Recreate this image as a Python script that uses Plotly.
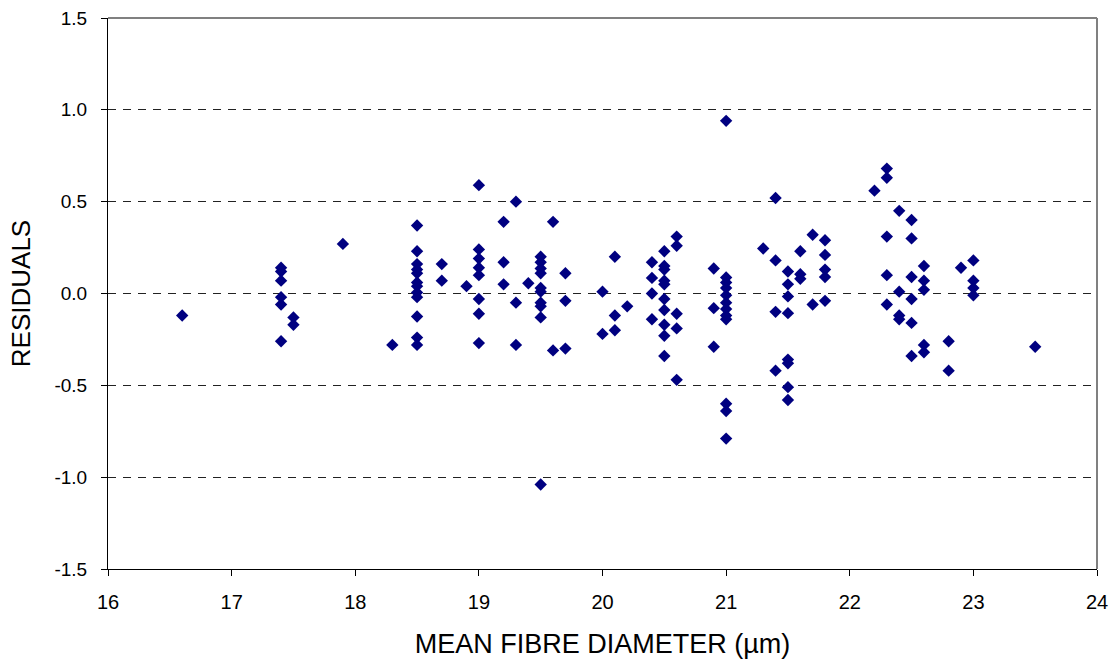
import plotly.graph_objects as go

# Data (mean fibre diameter, residual)
diameter = (
    [16.6]
    + [17.4] * 6
    + [17.5] * 2
    + [17.9]
    + [18.3]
    + [18.5] * 12
    + [18.7] * 2
    + [18.9]
    + [19.0] * 8
    + [19.2] * 3
    + [19.3] * 3
    + [19.4]
    + [19.5] * 10
    + [19.6] * 2
    + [19.7] * 3
    + [20.0] * 2
    + [20.1] * 3
    + [20.2]
    + [20.4] * 4
    + [20.5] * 10
    + [20.6] * 5
    + [20.9] * 3
    + [21.0] * 12
    + [21.3]
    + [21.4] * 4
    + [21.5] * 8
    + [21.6] * 3
    + [21.7] * 2
    + [21.8] * 5
    + [22.2]
    + [22.3] * 5
    + [22.4] * 4
    + [22.5] * 6
    + [22.6] * 5
    + [22.8] * 2
    + [22.9]
    + [23.0] * 4
    + [23.5]
)

residuals = [
    -0.12,
    0.14, 0.12, 0.07, -0.02, -0.06, -0.26,
    -0.13, -0.17,
    0.27,
    -0.28,
    0.37, 0.23, 0.16, 0.13, 0.11, 0.06, 0.04, 0.005, -0.02, -0.125, -0.24, -0.28,
    0.16, 0.07,
    0.04,
    0.59, 0.24, 0.19, 0.14, 0.10, -0.03, -0.11, -0.27,
    0.39, 0.17, 0.05,
    0.50, -0.05, -0.28,
    0.056,
    0.20, 0.17, 0.136, 0.11, 0.03, 0.01, -0.05, -0.07, -0.13, -1.04,
    0.39, -0.31,
    0.11, -0.04, -0.30,
    0.01, -0.22,
    0.20, -0.12, -0.20,
    -0.07,
    0.17, 0.085, 0.00, -0.14,
    0.23, 0.15, 0.13, 0.07, 0.05, -0.03, -0.09, -0.17, -0.23, -0.34,
    0.31, 0.26, -0.11, -0.19, -0.47,
    0.136, -0.08, -0.29,
    0.94, 0.087, 0.06, 0.03, -0.01, -0.05, -0.085, -0.12, -0.14, -0.60, -0.64, -0.79,
    0.245,
    0.52, 0.18, -0.10, -0.42,
    0.12, 0.05, -0.016, -0.107, -0.36, -0.38, -0.51, -0.58,
    0.23, 0.105, 0.08,
    0.32, -0.06,
    0.29, 0.21, 0.13, 0.09, -0.04,
    0.56,
    0.68, 0.63, 0.31, 0.10, -0.06,
    0.45, 0.01, -0.12, -0.14,
    0.40, 0.30, 0.09, -0.03, -0.16, -0.34,
    0.15, 0.07, 0.02, -0.28, -0.32,
    -0.26, -0.42,
    0.14,
    0.18, 0.07, 0.03, -0.01,
    -0.29,
]

x_ticks = [16, 17, 18, 19, 20, 21, 22, 23, 24]
y_ticks = [-1.5, -1.0, -0.5, 0.0, 0.5, 1.0, 1.5]
y_tick_labels = ["-1.5", "-1.0", "-0.5", "0.0", "0.5", "1.0", "1.5"]

FONT = "Liberation Sans, Arial, sans-serif"

fig = go.Figure()
fig.add_trace(go.Scatter(
    x=diameter,
    y=residuals,
    mode="markers",
    marker=dict(symbol="diamond", size=9.5, color="#000080",
                line=dict(width=0)),
    showlegend=False,
    hoverinfo="x+y",
))

fig.update_layout(
    width=1111,
    height=659,
    margin=dict(l=108, r=14, t=18, b=90),
    paper_bgcolor="white",
    plot_bgcolor="white",
    font=dict(family=FONT, size=19, color="black"),
    xaxis=dict(
        range=[16, 24],
        tickvals=x_ticks,
        ticktext=[str(v) for v in x_ticks],
        ticks="outside",
        ticklen=6,
        tickcolor="black",
        ticklabelstandoff=9,
        showgrid=False,
        zeroline=False,
        showline=True,
        linecolor="black",
        linewidth=1,
        automargin=False,
        title=dict(text="MEAN FIBRE DIAMETER (µm)", font=dict(size=27), standoff=22),
        tickfont=dict(size=20),
    ),
    yaxis=dict(
        range=[-1.5, 1.5],
        tickvals=y_ticks,
        ticktext=y_tick_labels,
        ticks="outside",
        ticklen=6,
        tickcolor="black",
        ticklabelstandoff=10,
        showgrid=True,
        gridcolor="#222222",
        griddash="8px,7px",
        gridwidth=1,
        zeroline=False,
        showline=True,
        linecolor="black",
        linewidth=1,
        automargin=False,
        title=dict(text="RESIDUALS", font=dict(size=26), standoff=16),
        tickfont=dict(size=19),
    ),
    shapes=[
        dict(type="line", xref="paper", yref="paper", x0=0, x1=1, y0=1, y1=1,
             line=dict(color="#808080", width=2)),
        dict(type="line", xref="paper", yref="paper", x0=1, x1=1, y0=0, y1=1,
             line=dict(color="#808080", width=2)),
    ],
)

fig.write_html("out.html")
